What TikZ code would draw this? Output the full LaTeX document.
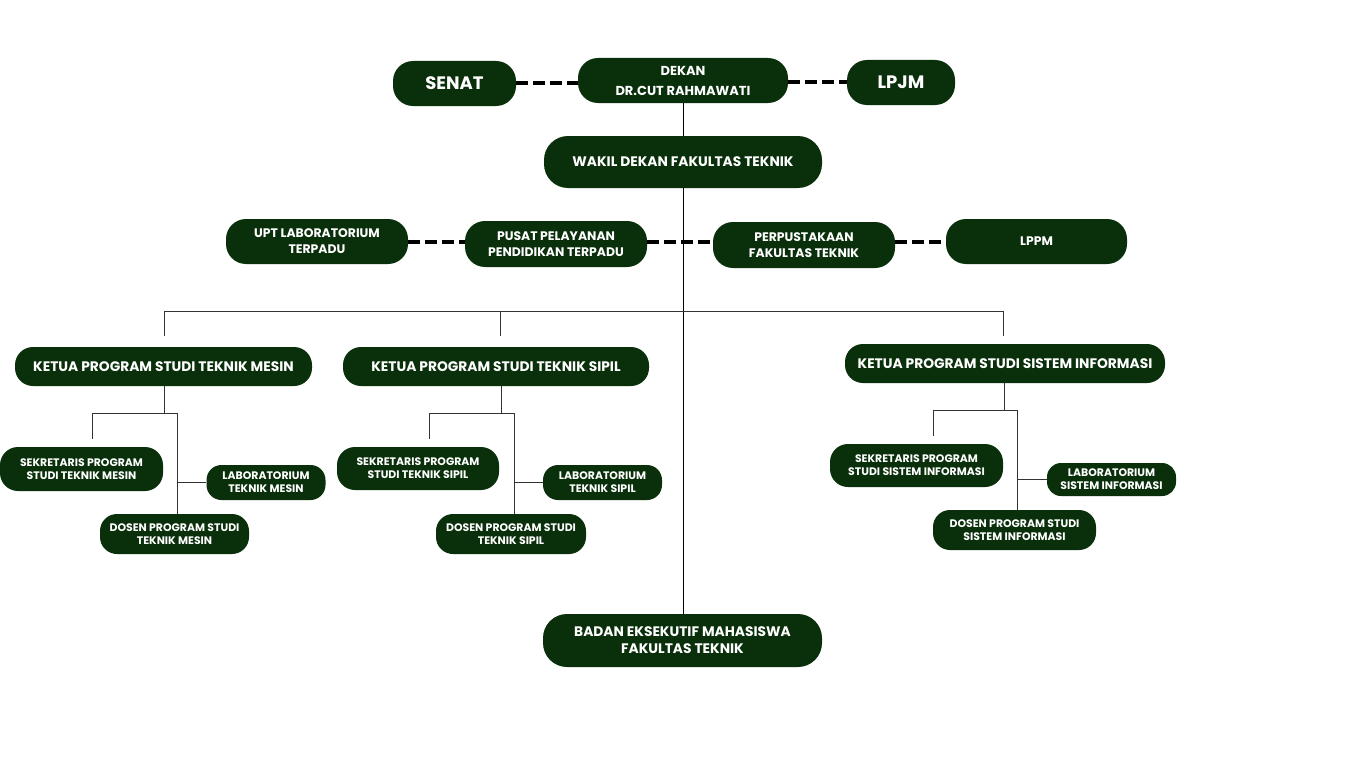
\documentclass[tikz,border=0pt]{standalone}
\usepackage{fontspec}
\setmainfont{Poppins}
\definecolor{dg}{HTML}{0A2F0B}
\tikzset{
 bx/.style n args={3}{fill=dg,text=white,align=center,inner sep=0pt,minimum width=#1pt,minimum height=#2pt,rounded corners=#3pt},
 ln/.style={draw=black!80,line width=1pt},
 dl/.style={draw=black,line width=4pt,dash pattern=on 12pt off 5pt},
 fA/.style={font=\bfseries\fontsize{18}{20}\selectfont},
 fB/.style={font=\bfseries\fontsize{13}{20}\selectfont},
 fC/.style={font=\bfseries\fontsize{13.8}{15}\selectfont},
 fM/.style={font=\bfseries\fontsize{12.4}{16}\selectfont},
 fK/.style={font=\bfseries\fontsize{13.8}{15}\selectfont},
 fS/.style={font=\bfseries\fontsize{10.9}{13}\selectfont},
 fE/.style={font=\bfseries\fontsize{13.8}{17}\selectfont},
}
\begin{document}
\begin{tikzpicture}[x=1pt,y=-1pt]
\useasboundingbox[fill=white] (0,0) rectangle (1366,768);
% top row
\node[bx={123}{45}{20},fA] (senat) at (454.5,83.5) {SENAT};
\node[bx={210}{45}{20},fB] (dekan) at (683,80.5) {DEKAN\\DR.CUT RAHMAWATI};
\node[bx={108}{45}{20},fA] (lpjm) at (901,82.5) {LPJM};
\node[bx={278}{52}{24},fC] (wakil) at (683,162) {WAKIL DEKAN FAKULTAS TEKNIK};
% middle row
\node[bx={182}{45}{20},fM] (upt) at (317,241.5) {UPT LABORATORIUM\\TERPADU};
\node[bx={182}{46}{20},fM] (pusat) at (556,244) {PUSAT PELAYANAN\\PENDIDIKAN TERPADU};
\node[bx={182}{46}{20},fM] (perpus) at (804,245) {PERPUSTAKAAN\\FAKULTAS TEKNIK};
\node[bx={181}{45}{20},fM] (lppm) at (1036.5,241.5) {LPPM};
% ketua
\node[bx={297}{39}{18},fK] (kmesin) at (163.5,366.5) {KETUA PROGRAM STUDI TEKNIK MESIN};
\node[bx={306}{39}{18},fK] (ksipil) at (496,366.5) {KETUA PROGRAM STUDI TEKNIK SIPIL};
\node[bx={320}{39}{18},fK] (ksi) at (1005,363.5) {KETUA PROGRAM STUDI SISTEM INFORMASI};
% mesin
\node[bx={163}{44}{18},fS] (msek) at (81.5,469) {SEKRETARIS PROGRAM\\STUDI TEKNIK MESIN};
\node[bx={119}{35}{15},fS] (mlab) at (266,482.5) {LABORATORIUM\\TEKNIK MESIN};
\node[bx={149}{40}{17},fS] (mdos) at (174.5,534) {DOSEN PROGRAM STUDI\\TEKNIK MESIN};
% sipil
\node[bx={162}{43}{18},fS] (ssek) at (418,468.5) {SEKRETARIS PROGRAM\\STUDI TEKNIK SIPIL};
\node[bx={119}{35}{15},fS] (slab) at (602.5,482.5) {LABORATORIUM\\TEKNIK SIPIL};
\node[bx={150}{40}{17},fS] (sdos) at (511,534) {DOSEN PROGRAM STUDI\\TEKNIK SIPIL};
% SI
\node[bx={173}{43}{18},fS] (isek) at (916.5,465.5) {SEKRETARIS PROGRAM\\STUDI SISTEM INFORMASI};
\node[bx={129}{33}{14},fS] (ilab) at (1111.5,479.5) {LABORATORIUM\\SISTEM INFORMASI};
\node[bx={163}{40}{17},fS] (idos) at (1014.5,530) {DOSEN PROGRAM STUDI\\SISTEM INFORMASI};
% BEM
\node[bx={279}{53}{24},fE] (bem) at (682.5,640.5) {BADAN EKSEKUTIF MAHASISWA\\FAKULTAS TEKNIK};
% dashed links
\draw[dl] (senat.east) -- (senat.east -| dekan.west);
\draw[dl] (dekan.east |- lpjm.west) -- (lpjm.west);
\draw[dl] (upt.east) -- (upt.east -| pusat.west);
\draw[dl] (pusat.east |- upt.east) -- (perpus.west |- upt.east);
\draw[dl] (perpus.east |- lppm.west) -- (lppm.west);
% main line
\draw[draw=black,line width=1pt] (dekan.south) -- (wakil.north);
\draw[draw=black,line width=1pt] (wakil.south) -- (wakil.south |- bem.north);
% bus
\coordinate (busL) at (164,311);
\coordinate (busR) at (1003,311);
\draw[ln] ([yshift=11pt]kmesin.north -| busL) -- (busL) -- (busR) -- ([yshift=8pt]ksi.north -| busR);
\draw[ln] ([yshift=11pt]ksipil.north -| 500,0) -- (500,311);
% mesin tree
\draw[ln] (kmesin.south -| 164,0) -- (164,413);
\draw[ln] ([yshift=8pt]msek.north -| 92,0) -- (92,413) -- (177,413) -- (mdos.north -| 177,0);
\draw[ln] (mlab.west) -- (mlab.west -| 177,0);
% sipil tree
\draw[ln] (ksipil.south -| 501,0) -- (501,413);
\draw[ln] ([yshift=8pt]ssek.north -| 429,0) -- (429,413) -- (514,413) -- (sdos.north -| 514,0);
\draw[ln] (slab.west) -- (slab.west -| 514,0);
% SI tree
\draw[ln] (ksi.south -| 1004,0) -- (1004,410);
\draw[ln] ([yshift=8pt]isek.north -| 933,0) -- (933,410) -- (1017,410) -- (idos.north -| 1017,0);
\draw[ln] (ilab.west) -- (ilab.west -| 1017,0);
\end{tikzpicture}
\end{document}
